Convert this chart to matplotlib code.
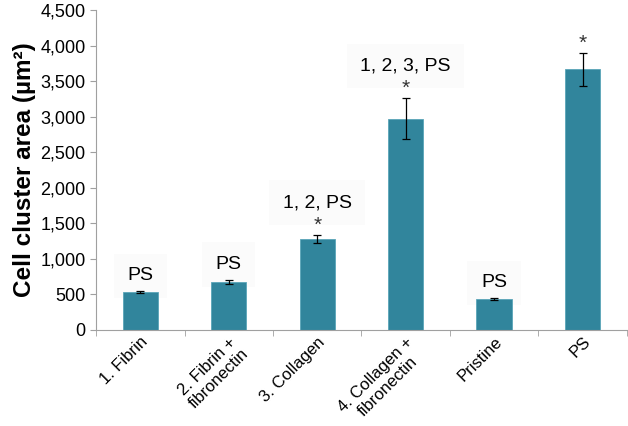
import numpy as np
import matplotlib
matplotlib.use("Agg")
import matplotlib.pyplot as plt
from matplotlib.ticker import FuncFormatter

# chart data
categories = ["1. Fibrin", "2. Fibrin +\nfibronectin", "3. Collagen",
              "4. Collagen +\nfibronectin", "Pristine", "PS"]
areas = [530, 675, 1280, 2970, 435, 3665]
errors = [15, 30, 60, 290, 12, 235]
sig_labels = ["PS", "PS", "1, 2, PS", "1, 2, 3, PS", "PS", ""]
stars = [False, False, True, True, False, True]

plt.rcParams['font.family'] = ['Liberation Sans', 'DejaVu Sans']

fig = plt.figure(figsize=(6.28, 4.26), dpi=100)
ax = fig.add_axes([0.153, 0.2254, 0.845, 0.751])

x = np.arange(len(categories))
ax.bar(x, areas, width=0.4, color='#31859c', edgecolor='#5aa5b8', linewidth=0.6, zorder=2)
ax.errorbar(x, areas, yerr=errors, fmt='none', ecolor='black', elinewidth=0.9,
            capsize=3, capthick=0.9, zorder=3)

# significance annotations above each bar
for i in range(len(categories)):
    top = areas[i] + errors[i]
    offset = 5
    if stars[i]:
        ax.annotate("*", (x[i], top), xytext=(0, 0), textcoords='offset points',
                    ha='center', va='bottom', fontsize=15, color='#333333', zorder=4)
        offset = 17
    if sig_labels[i]:
        ax.annotate(sig_labels[i], (x[i], top), xytext=(0, offset), textcoords='offset points',
                    ha='center', va='bottom', fontsize=14, color='black', zorder=1,
                    bbox=dict(boxstyle='square,pad=0.7', facecolor='#fbfbfb', edgecolor='none'))

ax.set_xlim(-0.5, len(categories) - 0.5)
ax.set_ylim(0, 4500)
ax.set_yticks(np.arange(0, 4501, 500))
ax.yaxis.set_major_formatter(FuncFormatter(lambda v, p: f"{int(v):,}"))
ax.set_ylabel("Cell cluster area (\u00b5m\u00b2)", fontsize=17.5, fontweight='bold', labelpad=3)

ax.set_xticks(x)
ax.set_xticklabels(categories, rotation=45, ha='right', rotation_mode='anchor',
                   fontsize=12, multialignment='center')
ax.tick_params(axis='x', length=0, pad=3)
ax.set_xticks(np.arange(-0.5, len(categories)), minor=True)
ax.tick_params(axis='x', which='minor', length=4, color='#a0a0a0', direction='out')
ax.tick_params(axis='y', labelsize=13, length=4, color='#a0a0a0', direction='out')

for s in ['top', 'right']:
    ax.spines[s].set_visible(False)
for s in ['left', 'bottom']:
    ax.spines[s].set_color('#a0a0a0')
    ax.spines[s].set_linewidth(0.8)

fig.savefig("out.png", dpi=100)
